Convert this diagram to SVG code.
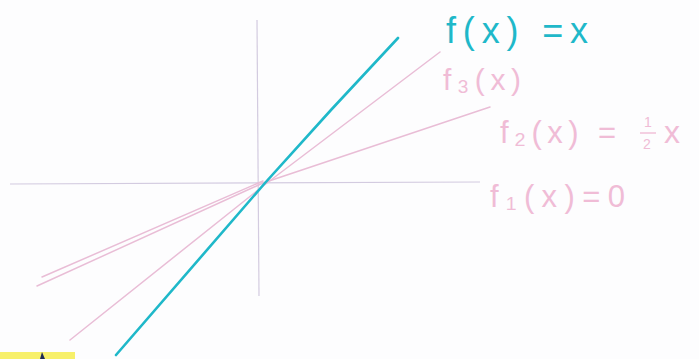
<svg xmlns="http://www.w3.org/2000/svg" width="699" height="359" viewBox="0 0 699 359">
<style>
.axis{stroke:#d3cbe0;stroke-width:1.2;fill:none}
.pink{stroke:#e9bdd6;stroke-width:1.5;fill:none;stroke-linecap:round}
.cyan{stroke:#1fb8c9;stroke-width:2.6;fill:none;stroke-linecap:round}
.lp{font-family:"Liberation Sans",sans-serif;fill:#f0bcd6}
.lc{font-family:"Liberation Sans",sans-serif;fill:#1fb8c9}
</style>
<rect width="699" height="359" fill="#fdfdfe"/>
<g id="axes">
<line class="axis" x1="10" y1="184" x2="480" y2="182"/>
<line class="axis" x1="257" y1="20" x2="259" y2="296"/>
</g>
<g id="connectors">
<path class="pink" d="M37,286 L263,183 L490,107"/>
<path class="pink" d="M42,277 L263,181"/>
<path class="pink" d="M70,340 L263,186 L440,52"/>
<path class="cyan" d="M116,355 L265,183 Q330,110 398,38"/>
</g>
<g id="label-f">
<text class="lc" x="446" y="43" font-size="36" textLength="142" lengthAdjust="spacing">f(x) =x</text>
</g>
<g id="label-f3">
<text class="lp" x="443" y="90" font-size="30" textLength="78" lengthAdjust="spacing">f₃(x)</text>
</g>
<g id="label-f2">
<text class="lp" x="500" y="143" font-size="31" textLength="116" lengthAdjust="spacing">f₂(x) =</text>
<text class="lp" x="644" y="127" font-size="14">1</text>
<line x1="640" y1="133" x2="656" y2="133" stroke="#f0bcd6" stroke-width="1.4"/>
<text class="lp" x="643" y="149" font-size="14">2</text>
<text class="lp" x="664" y="143" font-size="32">x</text>
</g>
<g id="label-f1">
<text class="lp" x="490" y="207" font-size="31" textLength="135" lengthAdjust="spacing">f₁(x)=0</text>
</g>
<g id="corner">
<rect x="0" y="352" width="75" height="7" fill="#f7f06a"/>
<path d="M40,359 L42,352 L45,359 Z" fill="#1d2a55"/>
</g>
</svg>
